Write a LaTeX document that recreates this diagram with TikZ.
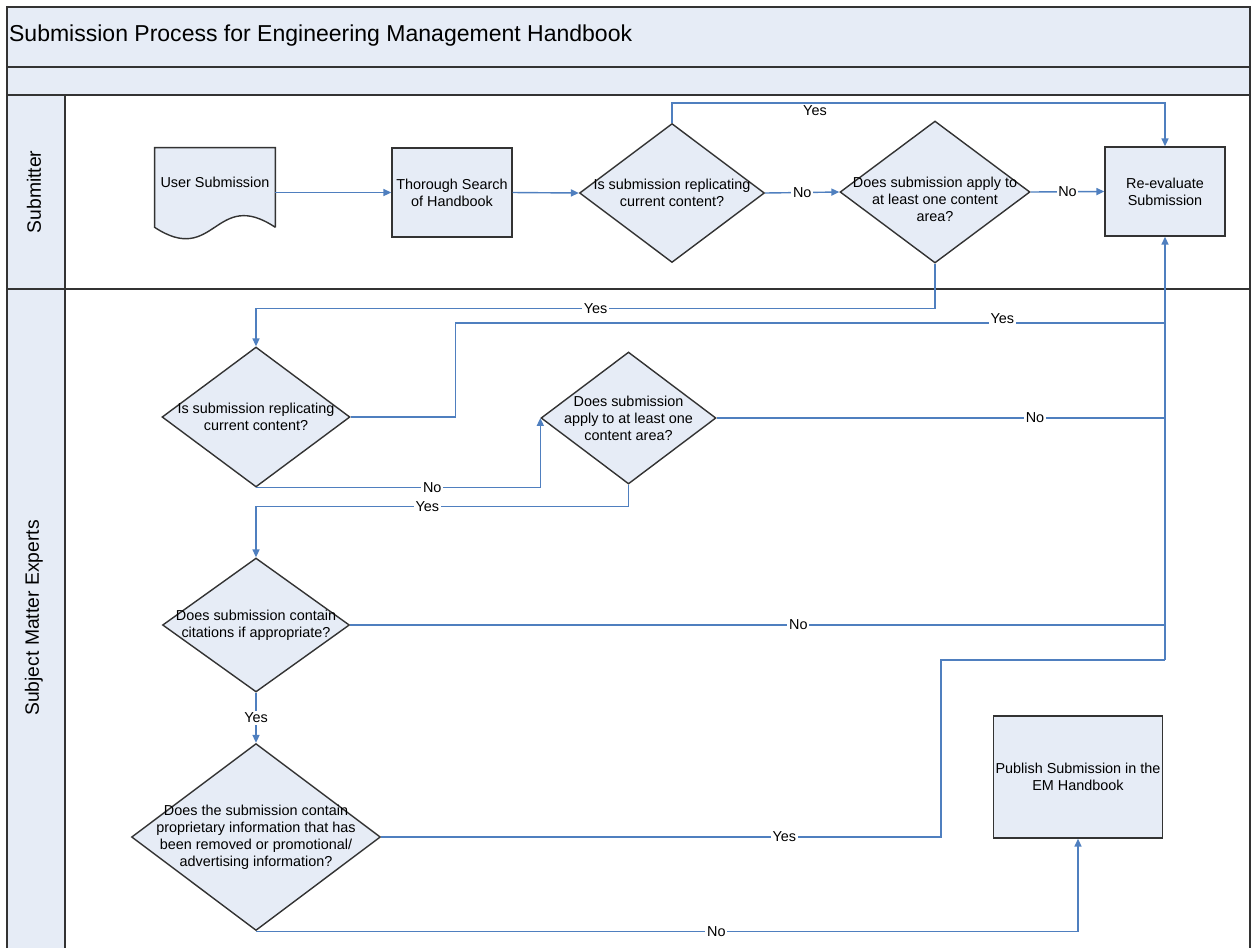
\documentclass[tikz,border=0pt]{standalone}
\usepackage{fontspec}
\setmainfont{Liberation Sans}
\usetikzlibrary{shapes.geometric,arrows.meta,backgrounds}
\definecolor{lanefill}{HTML}{E6ECF6}
\definecolor{linkblue}{HTML}{4F7FBF}
\definecolor{edgegray}{HTML}{333333}

\begin{document}
\begin{tikzpicture}[x=0.02cm,y=-0.02cm,
  frame_line/.style={draw=edgegray,line width=1.1pt},
  box_text/.style={align=center,font=\fontsize{8.2}{9.6}\selectfont},
  box_node/.style={rectangle,draw=edgegray,fill=lanefill,line width=0.8pt,inner sep=1pt,minimum width=2.4cm,minimum height=1.78cm,box_text},
  dec_node/.style={diamond,draw=edgegray,fill=lanefill,line width=0.8pt,inner sep=0pt},
  link_line/.style={draw=linkblue,line width=0.8pt},
  link_arrow/.style={link_line,-{Triangle[length=4.5pt,width=4pt]}},
  yn/.style={fill=white,inner sep=1pt,font=\fontsize{8.2}{9.6}\selectfont}]

    \useasboundingbox (0,0) rectangle (1256,948);

    \fill[lanefill] (7,7) rectangle (1250,95);
    \fill[lanefill] (7,95) rectangle (65,948);
    \draw[frame_line] (7,948) -- (7,7) -- (1250,7) -- (1250,948);
    \draw[frame_line] (7,67) -- (1250,67);
    \draw[frame_line] (7,95) -- (1250,95);
    \draw[frame_line] (7,289) -- (1250,289);
    \draw[frame_line] (65,95) -- (65,948);

    \node[anchor=west,inner sep=1pt,font=\fontsize{13.1}{15.5}\selectfont] (title) at (7,36) {Submission Process for Engineering Management Handbook};
    \node[rotate=90,font=\fontsize{11}{13}\selectfont] (lane1) at (34,192) {Submitter};
    \node[rotate=90,font=\fontsize{11}{13}\selectfont] (lane2) at (34,618) {Subject Matter Experts};

    \node[rectangle,minimum width=2.4cm,minimum height=1.58cm,label={[box_text,yshift=0.1cm]center:User Submission}] (1) at (215,187.5) {};
    \node[box_node] (2) at (452,192.5) {Thorough Search\\of Handbook};
    \node[dec_node,minimum width=3.7cm,minimum height=2.78cm,label={[box_text]center:{Is submission replicating\\current content?}}] (3) at (672,193) {};
    \node[dec_node,minimum width=3.8cm,minimum height=2.84cm,label={[box_text,yshift=-0.14cm]center:{Does submission apply to\\at least one content\\area?}}] (4) at (935,192) {};
    \node[box_node] (5) at (1165,191.5) {Re-evaluate\\Submission};
    \node[dec_node,minimum width=3.76cm,minimum height=2.8cm,label={[box_text]center:{Is submission replicating\\current content?}}] (6) at (256,417) {};
    \node[dec_node,minimum width=3.5cm,minimum height=2.64cm,label={[box_text]center:{Does submission\\apply to at least one\\content area?}}] (7) at (628.5,418) {};
    \node[dec_node,minimum width=3.74cm,minimum height=2.68cm,label={[box_text]center:{Does submission contain\\citations if appropriate?}}] (8) at (256,625) {};
    \node[dec_node,minimum width=4.98cm,minimum height=3.74cm,label={[box_text]center:{Does the submission contain\\proprietary information that has\\been removed or promotional/\\advertising information?}}] (9) at (256,837) {};
    \node[box_node,minimum width=3.22cm,minimum height=2.44cm] (10) at (1078,777) {Publish Submission in the\\EM Handbook};

    \begin{pgfonlayer}{background}
    \filldraw[draw=edgegray,fill=lanefill,line width=0.8pt] (1.south east) -- (1.north east) -- (1.north west) -- (1.south west) .. controls (215,267) and (215,187) .. (1.south east);
    \end{pgfonlayer}

    \coordinate (t1) at (1165,660);

    \draw[link_arrow] (1.east |- 2.west) -- (2.west);
    \draw[link_arrow] (2.east) -- (3.west);
    \draw[link_arrow] (3.east) -- node[yn]{No} (4.west);
    \draw[link_arrow] (4.east) -- node[yn]{No} (5.west);
    \draw[link_arrow] (3.north) -- ++(0,-20) -| node[pos=0.145,below,inner sep=1pt,font=\fontsize{8.2}{9.6}\selectfont]{Yes} (5.north);
    \draw[link_arrow] (4.south) -- ++(0,45) -| node[yn,pos=0.25]{Yes} (6.north);
    \draw[link_line] (6.east) -- ++(105,0) |- node[yn,pos=0.885,yshift=2.5pt]{Yes} ++(710,-94);
    \draw[link_arrow] (6.south) -| node[yn,pos=0.31]{No} (7.west);
    \draw[link_line] (7.east) -- node[yn,pos=0.71]{No} (7.east -| t1);
    \draw[link_arrow] (7.south) -- ++(0,22) -| node[yn,pos=0.27]{Yes} (8.north);
    \draw[link_line] (8.east) -- node[yn,pos=0.55]{No} (8.east -| t1);
    \draw[link_arrow] (8.south) -- node[yn]{Yes} (9.north);
    \draw[link_line] (9.east) -- node[yn,pos=0.72]{Yes} ++(560,0) |- (t1);
    \draw[link_arrow] (9.south) -| node[yn,pos=0.28]{No} (10.south);
    \draw[link_arrow] (t1) -- (5.south);

\end{tikzpicture}
\end{document}
